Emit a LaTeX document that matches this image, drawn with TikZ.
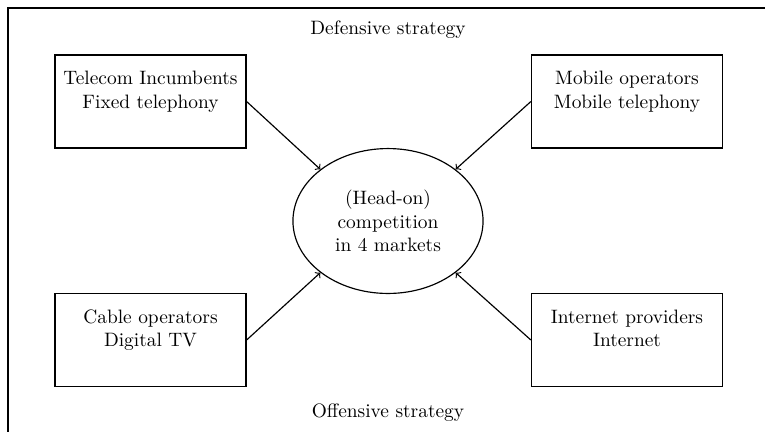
\documentclass[tikz,border=0pt]{standalone}
\usetikzlibrary{shapes.geometric}

\begin{document}
\begin{tikzpicture}[x=0.5155pt, y=-0.5155pt,
		player/.style={draw, semithick, minimum width=98.5pt, minimum height=48pt, align=center, inner sep=0pt},
		market/.style={draw, semithick, ellipse, minimum width=98pt, minimum height=74.7pt, align=center, inner sep=0pt}]
			% Fix the size of the page
			\useasboundingbox (0,0) rectangle (765,432);
			
			% Draw the frame (only top and left edges show)
			\draw[semithick] (765,8) -- (8,8) -- (8,432);
			
			% Strategy labels
			\node (defensive) at (388,30) {Defensive strategy};
			\node (offensive) at (388,413) {Offensive strategy};
			
			% Draw the four players
			\node[player] (incumbents) at (150.5,101.5) {Telecom Incumbents\\Fixed telephony\\ \mbox{}};
			\node[player] (mobile) at (627,101.5) {Mobile operators\\Mobile telephony\\ \mbox{}};
			\node[player] (cable) at (150.5,340) {Cable operators\\Digital TV\\ \mbox{}};
			\node[player] (internet) at (627,340) {Internet providers\\Internet\\ \mbox{}};
			
			% Draw the market in the middle
			\node[market] (markets) at (388,221) {(Head-on)\\competition\\in 4 markets};
			
			% Arrows into the market
			\draw[semithick,->] (incumbents.east) -- (markets.north west);
			\draw[semithick,->] (mobile.west) -- (markets.north east);
			\draw[semithick,->] (cable.east) -- (markets.south west);
			\draw[semithick,->] (internet.west) -- (markets.south east);
		\end{tikzpicture}
\end{document}
